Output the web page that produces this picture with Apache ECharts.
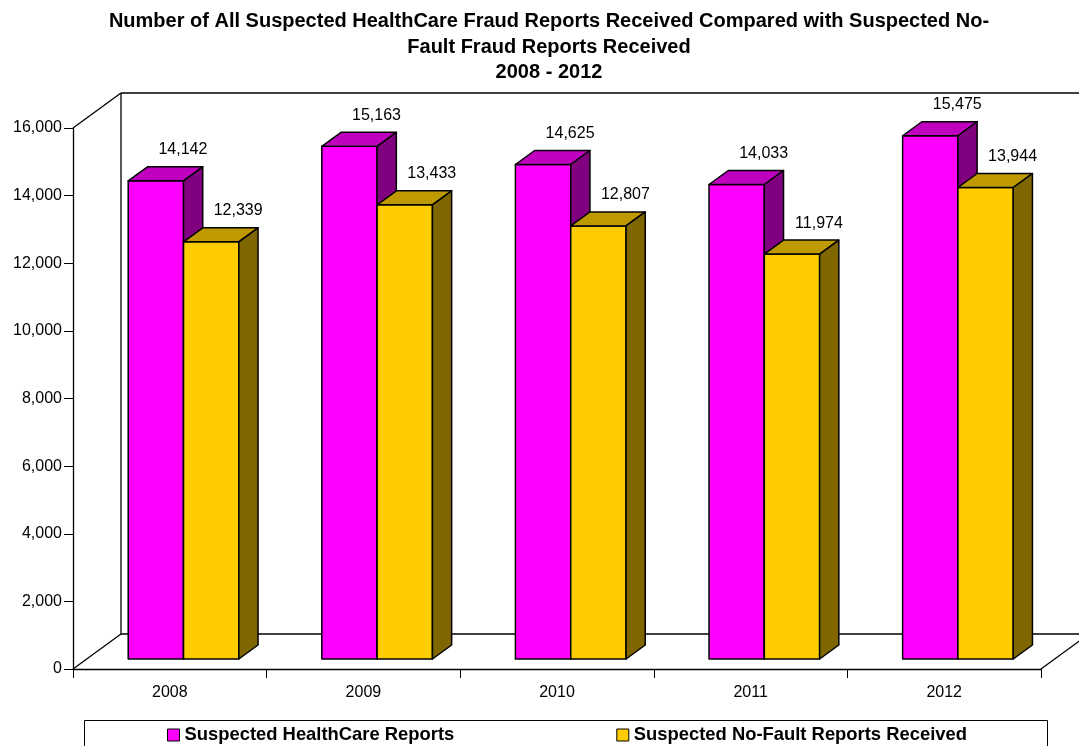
<!DOCTYPE html>
<html>
<head>
<meta charset="utf-8">
<script src="https://cdn.jsdelivr.net/npm/echarts@6/dist/echarts.min.js"></script>
<style>
  html, body { margin: 0; padding: 0; background: #fff; }
  #chart { width: 1079px; height: 746px; }
</style>
</head>
<body>
<div id="chart"></div>
<script>
const years = ["2008", "2009", "2010", "2011", "2012"];
const healthCare = [14142, 15163, 14625, 14033, 15475];
const noFault = [12339, 13433, 12807, 11974, 13944];
const yTicks = [0, 2000, 4000, 6000, 8000, 10000, 12000, 14000, 16000];

// 3d look: depth of the whole box, where bars sit in it, and bar depth
const DEPTH = [48, -35];
const BAR_POS = 0.286;
const BAR_DEPTH = 0.4;
const BAR_RATIO = 0.2857;
const FONT = "'Liberation Sans', Arial, sans-serif";

const faces = [
  { front: "#FF00FF", top: "#BF00BF", side: "#800080" },
  { front: "#FFCC00", top: "#BF9900", side: "#806600" }
];

const chart = echarts.init(document.getElementById("chart"));

function fmt(v) {
  return v.toLocaleString("en-US");
}

function renderFrame(params, api) {
  const cs = params.coordSys;
  const l = cs.x, t = cs.y, r = cs.x + cs.width, b = cs.y + cs.height;
  const dx = DEPTH[0], dy = DEPTH[1];
  const line = (x1, y1, x2, y2) => ({
    type: "line",
    shape: { x1, y1, x2, y2 },
    style: { stroke: "#000", lineWidth: 1.3 }
  });
  return {
    type: "group",
    children: [
      line(l, t, l + dx, t + dy),
      line(l + dx, t + dy, r + dx, t + dy),
      line(l + dx, t + dy, l + dx, b + dy),
      line(l + dx, b + dy, r + dx, b + dy),
      line(l, b, l + dx, b + dy),
      line(r, b, r + dx, b + dy),
      line(r + dx, t + dy, r + dx, b + dy)
    ]
  };
}

function makeBarRenderer(s) {
  return function (params, api) {
    const i = api.value(0);
    const v = api.value(1);
    const band = api.size([1, 0])[0];
    const w = band * BAR_RATIO;
    const c = api.coord([i, v]);
    const base = api.coord([i, 0]);
    const ox = DEPTH[0] * BAR_POS, oy = DEPTH[1] * BAR_POS;
    const ddx = DEPTH[0] * BAR_DEPTH, ddy = DEPTH[1] * BAR_DEPTH;
    const x0 = c[0] - w + ox + s * w;
    const yTop = c[1] + oy;
    const yBot = base[1] + oy;
    const stroke = { stroke: "#000", lineWidth: 1.5, lineJoin: "round" };
    return {
      type: "group",
      children: [
        {
          type: "rect",
          shape: { x: x0, y: yTop, width: w, height: yBot - yTop },
          style: Object.assign({ fill: faces[s].front }, stroke)
        },
        {
          type: "polygon",
          shape: { points: [[x0, yTop], [x0 + w, yTop], [x0 + w + ddx, yTop + ddy], [x0 + ddx, yTop + ddy]] },
          style: Object.assign({ fill: faces[s].top }, stroke)
        },
        {
          type: "polygon",
          shape: { points: [[x0 + w, yTop], [x0 + w + ddx, yTop + ddy], [x0 + w + ddx, yBot + ddy], [x0 + w, yBot]] },
          style: Object.assign({ fill: faces[s].side }, stroke)
        },
        {
          type: "text",
          style: {
            text: fmt(v),
            x: x0 + w / 2 + 27,
            y: yTop - 31,
            align: "center",
            verticalAlign: "middle",
            fill: "#000",
            font: "16px " + FONT
          }
        }
      ]
    };
  };
}

const option = {
  backgroundColor: "#fff",
  animation: false,
  title: {
    text: "Number of All Suspected HealthCare Fraud Reports Received Compared with Suspected No-\nFault Fraud Reports Received\n2008 - 2012",
    left: 549,
    top: 9,
    padding: 0,
    textAlign: "center",
    textStyle: {
      fontFamily: FONT,
      fontWeight: "bold",
      fontSize: 20,
      lineHeight: 25.5,
      color: "#000"
    }
  },
  legend: {
    left: 167,
    top: 726,
    padding: 0,
    itemWidth: 12,
    itemHeight: 12,
    itemGap: 162,
    icon: "rect",
    textStyle: {
      fontFamily: FONT,
      fontWeight: "bold",
      fontSize: 18.4,
      color: "#000"
    },
    data: [
      { name: "Suspected HealthCare Reports", itemStyle: { color: faces[0].front, borderColor: "#000", borderWidth: 1 } },
      { name: "Suspected No-Fault Reports Received", itemStyle: { color: faces[1].front, borderColor: "#000", borderWidth: 1 } }
    ]
  },
  graphic: [
    {
      type: "rect",
      left: 82,
      top: 718,
      shape: { width: 963, height: 40 },
      style: { fill: "none", stroke: "#000", lineWidth: 1 },
      z: -1
    }
  ],
  grid: { left: 73, right: 38, top: 128, bottom: 77 },
  xAxis: {
    type: "category",
    data: years,
    axisLine: { lineStyle: { color: "#000", width: 1.3 } },
    axisTick: { show: true, length: 9, lineStyle: { color: "#000" } },
    axisLabel: {
      color: "#000",
      fontSize: 16,
      fontFamily: FONT,
      margin: 16
    },
    splitLine: { show: false }
  },
  yAxis: {
    type: "value",
    min: 0,
    max: 16000,
    interval: 2000,
    axisLine: { show: true, lineStyle: { color: "#000", width: 1.3 } },
    axisTick: { show: true, length: 9, lineStyle: { color: "#000" } },
    axisLabel: {
      color: "#000",
      fontSize: 16,
      fontFamily: FONT,
      margin: 11,
      formatter: (v) => (yTicks.indexOf(v) >= 0 ? fmt(v) : "")
    },
    splitLine: { show: false }
  },
  series: [
    {
      type: "custom",
      name: "frame",
      z: 1,
      silent: true,
      renderItem: renderFrame,
      data: [[0, 0]]
    },
    {
      type: "custom",
      name: "Suspected HealthCare Reports",
      z: 2,
      itemStyle: { color: faces[0].front },
      renderItem: makeBarRenderer(0),
      encode: { x: 0, y: 1 },
      data: healthCare.map((v, i) => [i, v])
    },
    {
      type: "custom",
      name: "Suspected No-Fault Reports Received",
      z: 2,
      itemStyle: { color: faces[1].front },
      renderItem: makeBarRenderer(1),
      encode: { x: 0, y: 1 },
      data: noFault.map((v, i) => [i, v])
    }
  ]
};

chart.setOption(option);

window.addEventListener("resize", () => {
  chart.resize();
});
</script>
</body>
</html>
